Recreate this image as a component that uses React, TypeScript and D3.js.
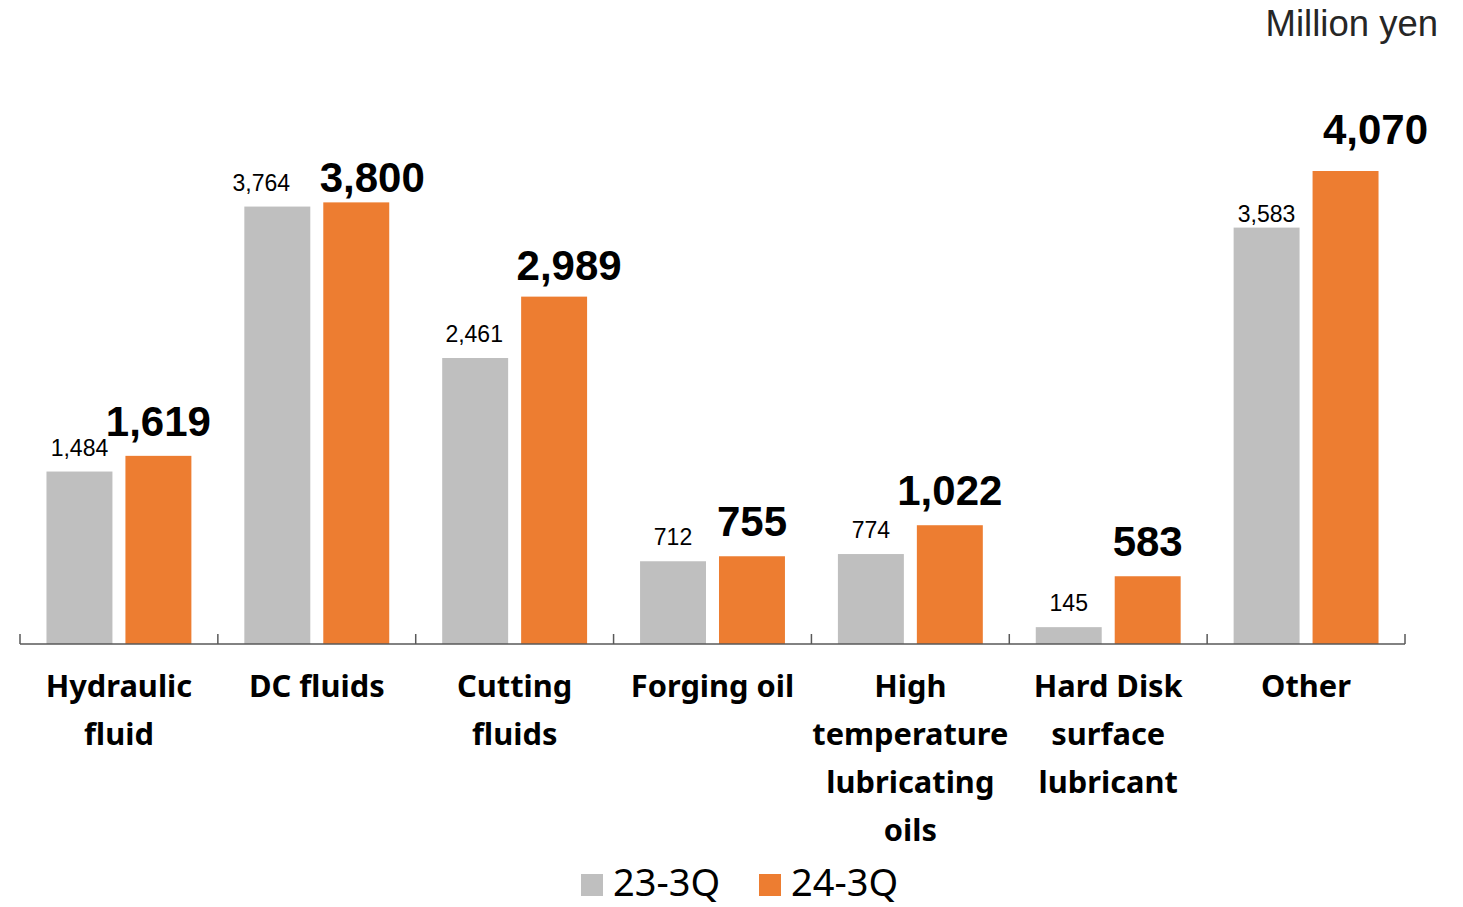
import React from "react";
import * as d3 from "d3";

const categories: string[][] = [
  ["Hydraulic", "fluid"],
  ["DC fluids"],
  ["Cutting", "fluids"],
  ["Forging oil"],
  ["High", "temperature", "lubricating", "oils"],
  ["Hard Disk", "surface", "lubricant"],
  ["Other"],
];
const series = ["23-3Q", "24-3Q"];
const values23 = [1484, 3764, 2461, 712, 774, 145, 3583];
const values24 = [1619, 3800, 2989, 755, 1022, 583, 4070];
// label nudges as placed in the original (dx, dy)
const shift23 = [0, -16, -1, 0, 0, 0, 0];
const lift23 = [0, 0, 0, 0, 0, 0, 10];
const shift24 = [0, 16, 15, 0, 0, 0, 30];
const lift24 = [0, 10, 3, 0, 0, 0, -7];

const colors = ["#BFBFBF", "#ED7D31"];
const labelFont = "Meiryo, 'Noto Sans', 'DejaVu Sans', sans-serif";
const numFont = "Arial, 'Liberation Sans', sans-serif";

export default function App() {
  const W = 1463, H = 907;
  const base = 644;
  const keys = categories.map((c) => c.join(" "));
  const x = d3.scaleBand<string>().domain(keys).range([20, 1405]).padding(0);
  const bw = x.bandwidth();
  const xs = d3.scaleBand<string>().domain(series).range([0, bw]).paddingInner(13 / 79).paddingOuter(0.3354);
  const y = d3.scaleLinear().domain([0, 4070]).range([base, 171]);
  const fmt = d3.format(",");
  const ticks = d3.range(keys.length + 1).map((i) => 20 + i * bw);

  return (
    <svg width={W} height={H} style={{ position: "absolute", left: 0, top: 0 }}>
      <rect width={W} height={H} fill="#fff" />
      <text x={1438} y={36} textAnchor="end" fontFamily={numFont} fontSize={36.5} fill="#262626">
        Million yen
      </text>
      {keys.map((k, i) => {
        const x0 = x(k)!;
        const g = x0 + xs(series[0])!;
        const o = x0 + xs(series[1])!;
        const w = xs.bandwidth();
        return (
          <g key={k}>
            <rect x={g} y={y(values23[i])} width={w} height={base - y(values23[i])} fill={colors[0]} />
            <rect x={o} y={y(values24[i])} width={w} height={base - y(values24[i])} fill={colors[1]} />
            <text x={g + w / 2 + shift23[i]} y={y(values23[i]) - 16 + lift23[i]} textAnchor="middle" fontFamily={numFont} fontSize={23} fill="#000">
              {fmt(values23[i])}
            </text>
            <text x={o + w / 2 + shift24[i]} y={y(values24[i]) - 20 + lift24[i]} textAnchor="middle" fontFamily={numFont} fontWeight="bold" fontSize={42} fill="#000">
              {fmt(values24[i])}
            </text>
            {categories[i].map((line, j) => (
              <text key={j} x={x0 + bw / 2} y={697 + j * 48} textAnchor="middle" fontFamily={labelFont} fontWeight="bold" fontSize={30.8} fill="#000">
                {line}
              </text>
            ))}
          </g>
        );
      })}
      <line x1={20} x2={1405} y1={base} y2={base} stroke="#595959" strokeWidth={1.5} />
      {ticks.map((t, i) => (
        <line key={i} x1={t} x2={t} y1={base} y2={base - 10} stroke="#595959" strokeWidth={1.5} />
      ))}
      <g>
        <rect x={581} y={874} width={22} height={22} fill={colors[0]} />
        <text x={613} y={896} fontFamily={labelFont} fontSize={38} fill="#000">{series[0]}</text>
        <rect x={759} y={874} width={22} height={22} fill={colors[1]} />
        <text x={791} y={896} fontFamily={labelFont} fontSize={38} fill="#000">{series[1]}</text>
      </g>
    </svg>
  );
}
